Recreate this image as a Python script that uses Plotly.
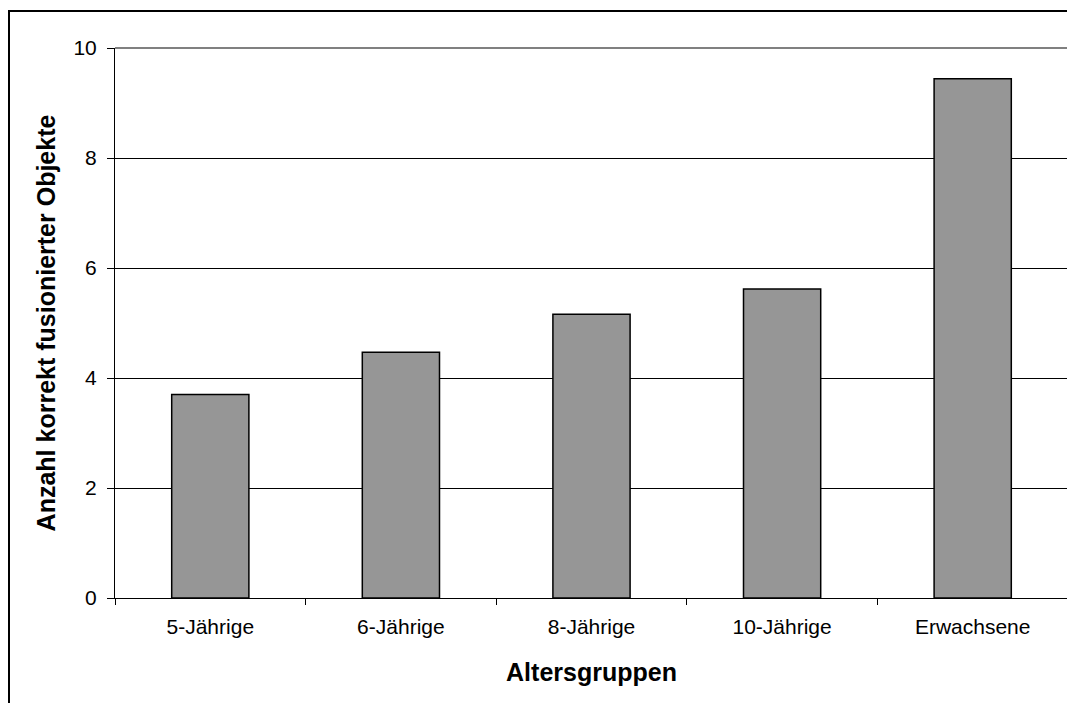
import plotly.graph_objects as go

# Altersgruppen und mittlere Anzahl korrekt fusionierter Objekte
groups = ["5-Jährige", "6-Jährige", "8-Jährige", "10-Jährige", "Erwachsene"]
values = [3.70, 4.47, 5.16, 5.62, 9.44]
y_ticks = [0, 2, 4, 6, 8, 10]

# page body adds 8px offset, so margins are shifted by 8
W, H = 1075, 703
L, R, T, B = 107, 15, 40, 113
pw, ph = W - L - R, H - T - B

fig = go.Figure()
fig.add_trace(go.Bar(
    x=groups, y=values,
    marker=dict(color="#969696", line=dict(color="black", width=1.5)),
    width=0.405,
))

font = "Liberation Sans, Arial, sans-serif"

fig.update_layout(
    width=W, height=H,
    margin=dict(l=L, r=R, t=T, b=B),
    paper_bgcolor="white", plot_bgcolor="white",
    showlegend=False,
    font=dict(family=font, size=20, color="black"),
    xaxis=dict(
        showline=True, linecolor="black", linewidth=1,
        ticks="outside", tickson="boundaries", ticklen=6, tickcolor="black",
        tickfont=dict(size=21), ticklabelstandoff=10,
        title=dict(text="<b>Altersgruppen</b>", font=dict(size=25), standoff=26),
        showgrid=False,
    ),
    yaxis=dict(
        range=[0, 10], tickvals=y_ticks,
        showline=True, linecolor="black", linewidth=1,
        ticks="outside", ticklen=7, tickcolor="black",
        tickfont=dict(size=21), ticklabelstandoff=6,
        showgrid=True, gridcolor="black", gridwidth=1,
        zeroline=False,
        title=dict(text="<b>Anzahl korrekt fusionierter Objekte</b>", font=dict(size=25), standoff=10),
    ),
)

# grauer Rahmen oben/rechts des Plotbereichs
fig.add_shape(type="line", xref="paper", yref="paper", x0=0, x1=1, y0=1, y1=1,
              line=dict(color="#808080", width=2), layer="above")
fig.add_shape(type="line", xref="paper", yref="paper", x0=1, x1=1, y0=0, y1=1,
              line=dict(color="#808080", width=2), layer="above")

# äußerer Rahmen (links und oben sichtbar)
fig.add_shape(type="rect", xref="paper", yref="paper",
              x0=(1 - L) / pw, x1=1.05,
              y0=-0.25, y1=(ph + T - 3) / ph,
              line=dict(color="black", width=2), layer="above")

fig.write_html("out.html")
